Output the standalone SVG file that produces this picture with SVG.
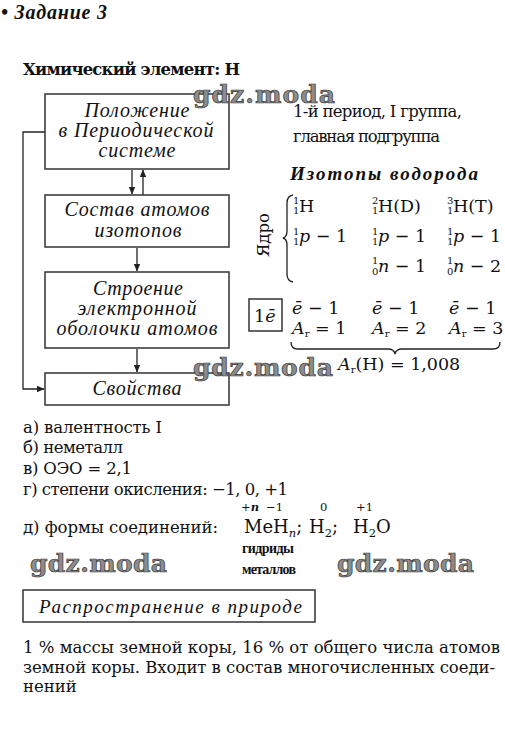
<svg xmlns="http://www.w3.org/2000/svg" width="505" height="730" viewBox="0 0 505 730">
<style>
text{font-family:"DejaVu Serif","Liberation Serif",serif;fill:#111}
.it{font-style:italic}
.b{font-weight:bold}
.tr{font-family:"Liberation Serif","DejaVu Serif",serif}
.box{fill:#fff;stroke:#333;stroke-width:1.5}
.ln{fill:none;stroke:#222;stroke-width:1.3}
.bx{font-family:"Liberation Serif","DejaVu Serif",serif;font-size:20px;font-style:italic;text-anchor:middle}
.l{font-size:16.5px}
.iso{font-size:17.5px}
.ix{font-size:10px}
.wm{font-family:"DejaVu Serif","Liberation Serif",serif;font-weight:bold;font-size:25px;fill:#8c8c8c;stroke:#333;stroke-width:0.7}
</style>
<defs>
<marker id="ah" markerWidth="8" markerHeight="8" refX="7" refY="4" orient="auto" markerUnits="userSpaceOnUse">
<path d="M0,0.8 L7.5,4 L0,7.2 Z" fill="#222"/>
</marker>
</defs>
<rect width="505" height="730" fill="#fff"/>

<text x="1" y="19" class="b it tr" font-size="20" textLength="106">• Задание 3</text>
<text x="23" y="75" class="b" font-size="16.5" textLength="217">Химический элемент: H</text>

<g id="connectors">
<line class="ln" x1="132" y1="170" x2="132" y2="194" marker-end="url(#ah)"/>
<line class="ln" x1="143" y1="195" x2="143" y2="170" marker-end="url(#ah)"/>
<line class="ln" x1="137" y1="248" x2="137" y2="271" marker-end="url(#ah)"/>
<line class="ln" x1="137" y1="349" x2="137" y2="372" marker-end="url(#ah)"/>
<polyline class="ln" points="45,132 23,132 23,389 44,389" marker-end="url(#ah)"/>
</g>

<g id="n-position">
<rect class="box" x="45" y="94" width="184" height="75"/>
<text class="bx" x="137" y="117" textLength="105">Положение</text>
<text class="bx" x="136" y="137" textLength="155">в Периодической</text>
<text class="bx" x="137" y="157" textLength="77">системе</text>
</g>
<g id="n-composition">
<rect class="box" x="45" y="195" width="184" height="52"/>
<text class="bx" x="137" y="216" textLength="145">Состав атомов</text>
<text class="bx" x="138" y="237" textLength="87">изотопов</text>
</g>
<g id="n-structure">
<rect class="box" x="45" y="272" width="184" height="76"/>
<text class="bx" x="138" y="295" textLength="90">Строение</text>
<text class="bx" x="137" y="315" textLength="119">электронной</text>
<text class="bx" x="137" y="335" textLength="161">оболочки атомов</text>
</g>
<g id="n-properties">
<rect class="box" x="45" y="373" width="184" height="32"/>
<text class="bx" x="137" y="395" textLength="89">Свойства</text>
</g>

<g id="period">
<text class="l" x="293" y="117" textLength="169">1-й период, I группа,</text>
<text class="l" x="293" y="142" textLength="147">главная подгруппа</text>
</g>

<g id="isotopes">
<text class="b it tr" x="290" y="180" font-size="19" textLength="188">Изотопы водорода</text>
<text class="l" transform="translate(269,235) rotate(-90)" text-anchor="middle" font-size="15">Ядро</text>
<path class="ln" d="M293,195 Q287,196 287,203 L287,231 Q287,237 283,238 Q287,239 287,245 L287,274 Q287,281 293,282"/>

<text class="ix" x="293" y="204">1</text><text class="ix" x="293" y="214">1</text>
<text class="iso" x="299" y="212">H</text>
<text class="ix" x="372" y="204">2</text><text class="ix" x="372" y="214">1</text>
<text class="iso" x="378" y="212">H(D)</text>
<text class="ix" x="447" y="204">3</text><text class="ix" x="447" y="214">1</text>
<text class="iso" x="453" y="212">H(T)</text>

<text class="ix" x="293" y="235">1</text><text class="ix" x="293" y="245">1</text>
<text class="iso" x="299" y="242"><tspan class="it">p</tspan> − 1</text>
<text class="ix" x="372" y="235">1</text><text class="ix" x="372" y="245">1</text>
<text class="iso" x="378" y="242"><tspan class="it">p</tspan> − 1</text>
<text class="ix" x="447" y="235">1</text><text class="ix" x="447" y="245">1</text>
<text class="iso" x="453" y="242"><tspan class="it">p</tspan> − 1</text>

<text class="ix" x="372" y="264">1</text><text class="ix" x="372" y="275">0</text>
<text class="iso" x="378" y="272"><tspan class="it">n</tspan> − 1</text>
<text class="ix" x="447" y="264">1</text><text class="ix" x="447" y="275">0</text>
<text class="iso" x="453" y="272"><tspan class="it">n</tspan> − 2</text>

<rect class="box" x="249" y="299" width="33" height="32" stroke-width="1.3"/>
<text class="iso" x="254" y="322">1<tspan class="it">ē</tspan></text>

<text class="iso" x="292" y="314"><tspan class="it">ē</tspan> − 1</text>
<text class="iso" x="372" y="314"><tspan class="it">ē</tspan> − 1</text>
<text class="iso" x="449" y="314"><tspan class="it">ē</tspan> − 1</text>
<text class="iso" x="292" y="334"><tspan class="it">A</tspan><tspan dy="3" font-size="10">r</tspan><tspan dy="-3"> = 1</tspan></text>
<text class="iso" x="372" y="334"><tspan class="it">A</tspan><tspan dy="3" font-size="10">r</tspan><tspan dy="-3"> = 2</tspan></text>
<text class="iso" x="449" y="334"><tspan class="it">A</tspan><tspan dy="3" font-size="10">r</tspan><tspan dy="-3"> = 3</tspan></text>
<path class="ln" d="M291,342 Q291,349 298,349 L388,349 Q394,349 395,354 Q396,349 402,349 L493,349 Q500,349 500,342"/>
<text class="iso" x="338" y="370"><tspan class="it">A</tspan><tspan dy="3" font-size="10">r</tspan><tspan dy="-3">(H) = 1,008</tspan></text>
</g>

<g id="properties-list">
<text class="l" x="23" y="433" textLength="139">а) валентность I</text>
<text class="l" x="23" y="453" textLength="100">б) неметалл</text>
<text class="l" x="23" y="474" textLength="109">в) ОЭО = 2,1</text>
<text class="l" x="23" y="495" textLength="265">г) степени окисления: −1, 0, +1</text>
<text class="l" x="23" y="533" textLength="195">д) формы соединений:</text>
<text x="241" y="511" font-size="11.5">+<tspan class="b it">n</tspan></text>
<text x="266" y="511" font-size="11.5">−1</text>
<text x="320" y="511" font-size="11.5">0</text>
<text x="356" y="511" font-size="11.5">+1</text>
<text x="244" y="533" font-size="18">MeH<tspan dy="4" font-size="11.5" class="it">n</tspan><tspan dy="-4">;</tspan></text>
<text x="309" y="533" font-size="18">H<tspan dy="4" font-size="11.5">2</tspan><tspan dy="-4">;</tspan></text>
<text x="353" y="533" font-size="18">H<tspan dy="4" font-size="11.5">2</tspan><tspan dy="-4">O</tspan></text>
<text x="242" y="553" font-size="14" class="b tr" textLength="52">гидриды</text>
<text x="242" y="574" font-size="14" class="b tr" textLength="54">металлов</text>
</g>

<g id="nature">
<rect class="box" x="23" y="590" width="292" height="32"/>
<text x="39" y="613" font-size="19" class="it tr" textLength="263">Распространение в природе</text>
<text class="l" x="23" y="653" textLength="477">1 % массы земной коры, 16 % от общего числа атомов</text>
<text class="l" x="23" y="673" textLength="472">земной коры. Входит в состав многочисленных соеди-</text>
<text class="l" x="23" y="692">нений</text>
</g>

<g id="watermarks">
<text class="wm" x="193" y="103" textLength="142">gdz.moda</text>
<text class="wm" x="193" y="376" textLength="140">gdz.moda</text>
<text class="wm" x="30" y="572" textLength="137">gdz.moda</text>
<text class="wm" x="337" y="572" textLength="137">gdz.moda</text>
</g>
</svg>
